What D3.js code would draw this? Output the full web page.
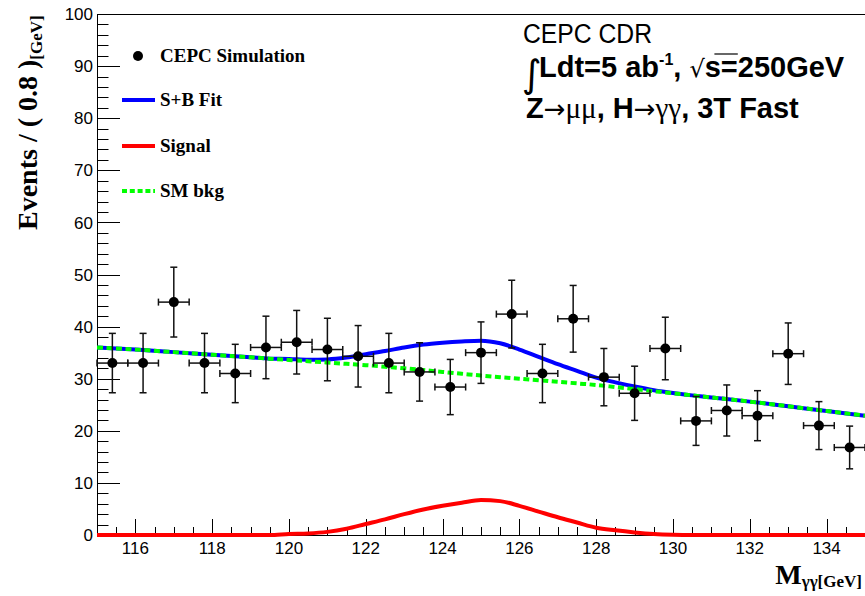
<!DOCTYPE html>
<html>
<head>
<meta charset="utf-8">
<script src="https://cdn.jsdelivr.net/npm/d3@7"></script>
<style>
  html, body { margin: 0; padding: 0; background: #fff; }
  svg { display: block; }
</style>
</head>
<body>
<svg id="chart" width="865" height="596"></svg>
<script>
// ---------------- DATA ----------------
const binCenters = [115.4,116.2,117.0,117.8,118.6,119.4,120.2,121.0,121.8,122.6,123.4,124.2,125.0,125.8,126.6,127.4,128.2,129.0,129.8,130.6,131.4,132.2,133.0,133.8,134.6];
const counts     = [33,33,44.7,33,31,36,37,35.6,34.3,33,31.3,28.4,35,42.4,31,41.5,30.3,27.2,35.8,21.9,23.9,22.9,34.8,21,16.8];
const errors     = [5.7,5.7,6.7,5.7,5.6,6.0,6.1,6.0,5.9,5.7,5.6,5.3,5.9,6.5,5.6,6.4,5.5,5.2,6.0,4.7,4.9,4.8,5.9,4.6,4.1];
const binHalfWidth = 0.4;

const curveX   = [115,116,117,118,119,119.5,120,120.5,121,121.5,122,122.5,123,123.5,124,124.5,125,125.5,126,126.5,127,127.5,128,128.5,129,129.5,130,130.5,131,132,133,134,135];
const bkgY     = [36.0,35.6,35.1,34.6,34.1,33.85,33.6,33.35,33.1,32.85,32.6,32.3,32.0,31.65,31.3,30.95,30.6,30.3,30.0,29.7,29.4,29.1,28.8,28.4,28.0,27.6,27.2,26.8,26.4,25.6,24.7,23.8,22.9];
const signalY  = [0,0,0,0,0,0,0.2,0.3,0.6,1.2,2.1,3.0,4.0,4.9,5.6,6.2,6.7,6.5,5.6,4.5,3.4,2.4,1.4,0.9,0.5,0.2,0.05,0,0,0,0,0,0];
const sbY      = [36.0,35.6,35.1,34.6,34.1,33.85,33.8,33.65,33.7,34.05,34.7,35.3,36.0,36.55,36.9,37.15,37.3,36.8,35.6,34.2,32.8,31.5,30.2,29.3,28.5,27.8,27.25,26.8,26.4,25.6,24.7,23.8,22.9];

const xDomain = [115, 135];
const yDomain = [0, 100];
const xTickValues = [116,118,120,122,124,126,128,130,132,134];
const yTickValues = [0,10,20,30,40,50,60,70,80,90,100];

const legendItems = [
  {label: "CEPC Simulation", type: "marker"},
  {label: "S+B Fit", type: "sb"},
  {label: "Signal", type: "sig"},
  {label: "SM bkg", type: "bkg"}
];

// ---------------- LAYOUT ----------------
const svg = d3.select("#chart");
const L = 97, R = 865, T = 14, B = 535;
const x = d3.scaleLinear().domain(xDomain).range([L, R]);
const y = d3.scaleLinear().domain(yDomain).range([B, T]);

const COL_SB = "#0000ff", COL_SIG = "#ff0000", COL_BKG = "#00ff00";
const SANS = "'Liberation Sans', Arial, Helvetica, sans-serif";
const SERIF = "'Liberation Serif', 'Times New Roman', Times, serif";

// frame
svg.append("rect").attr("x", L + 0.5).attr("y", T + 0.5).attr("width", R - L).attr("height", B - T)
  .attr("fill", "none").attr("stroke", "#000").attr("stroke-width", 1);

// ---------------- AXES (ROOT style: ticks inside) ----------------
const yMinor = d3.range(0, 100.001, 2);
const xMinor = d3.range(115, 135.001, 0.5);

const gY = svg.append("g").attr("class", "y-axis");
gY.selectAll("line.minor").data(yMinor).join("line")
  .attr("x1", L).attr("x2", d => L + (d % 10 === 0 ? 23 : 11.5))
  .attr("y1", d => Math.round(y(d)) + 0.5).attr("y2", d => Math.round(y(d)) + 0.5)
  .attr("stroke", "#000").attr("stroke-width", 1);
gY.selectAll("text").data(yTickValues).join("text")
  .attr("x", L - 4).attr("y", d => y(d)).attr("dy", "0.36em")
  .attr("text-anchor", "end").attr("font-family", SANS).attr("font-size", 17)
  .attr("fill", "#000").text(d => d);

const gX = svg.append("g").attr("class", "x-axis");
gX.selectAll("line").data(xMinor).join("line")
  .attr("x1", d => Math.round(x(d)) + 0.5).attr("x2", d => Math.round(x(d)) + 0.5)
  .attr("y1", B).attr("y2", d => B - (Math.abs(d % 2) < 1e-6 ? 16 : 8))
  .attr("stroke", "#000").attr("stroke-width", 1);
gX.selectAll("text").data(xTickValues).join("text")
  .attr("x", d => x(d)).attr("y", 554)
  .attr("text-anchor", "middle").attr("font-family", SANS).attr("font-size", 17)
  .attr("fill", "#000").text(d => d);

// axis titles
const yTitle = svg.append("text")
  .attr("transform", "translate(37,230) rotate(-90)")
  .attr("font-family", SERIF).attr("font-weight", "bold").attr("font-size", 28).attr("fill", "#000");
yTitle.append("tspan").text("Events / ( 0.8 )");
yTitle.append("tspan").attr("font-size", 17).attr("dy", 5).text("[GeV]");

const xTitle = svg.append("text")
  .attr("x", 862).attr("y", 584).attr("text-anchor", "end")
  .attr("font-family", SERIF).attr("font-weight", "bold").attr("font-size", 28).attr("fill", "#000");
xTitle.append("tspan").text("M");
xTitle.append("tspan").attr("font-size", 17).attr("dy", 3).text("γγ[GeV]");

// ---------------- CURVES ----------------
svg.append("clipPath").attr("id", "plotclip").append("rect")
  .attr("x", L).attr("y", T).attr("width", R - L).attr("height", B - T + 3);

const lineGen = (ys) => d3.line().x((d, i) => x(curveX[i])).y((d, i) => y(ys[i])).curve(d3.curveMonotoneX)(ys);

const gCurves = svg.append("g").attr("clip-path", "url(#plotclip)");
gCurves.append("path").attr("d", lineGen(signalY)).attr("fill", "none")
  .attr("stroke", COL_SIG).attr("stroke-width", 4);
gCurves.append("path").attr("d", lineGen(sbY)).attr("fill", "none")
  .attr("stroke", COL_SB).attr("stroke-width", 4);
gCurves.append("path").attr("d", lineGen(bkgY)).attr("fill", "none")
  .attr("stroke", COL_BKG).attr("stroke-width", 4).attr("stroke-dasharray", "6,3.5");

// ---------------- DATA POINTS ----------------
const gPts = svg.append("g");
const cap = 3.5;
binCenters.forEach((c, i) => {
  const cx = x(c), cy = y(counts[i]);
  const yl = y(counts[i] - errors[i]), yh = y(counts[i] + errors[i]);
  const xl = x(c - binHalfWidth), xh = x(c + binHalfWidth);
  const g = gPts.append("g").attr("stroke", "#111").attr("stroke-width", 1.5);
  g.append("line").attr("x1", cx).attr("x2", cx).attr("y1", yh).attr("y2", yl);
  g.append("line").attr("x1", xl).attr("x2", xh).attr("y1", cy).attr("y2", cy);
  g.append("line").attr("x1", cx - cap).attr("x2", cx + cap).attr("y1", yh).attr("y2", yh);
  g.append("line").attr("x1", cx - cap).attr("x2", cx + cap).attr("y1", yl).attr("y2", yl);
  g.append("line").attr("x1", xl).attr("x2", xl).attr("y1", cy - cap).attr("y2", cy + cap);
  g.append("line").attr("x1", xh).attr("x2", xh).attr("y1", cy - cap).attr("y2", cy + cap);
  gPts.append("circle").attr("cx", cx).attr("cy", cy).attr("r", 5).attr("fill", "#000");
});

// ---------------- LEGEND ----------------
const legY = [56, 100, 146, 191];
const gLeg = svg.append("g");
legendItems.forEach((it, i) => {
  const yy = legY[i];
  if (it.type === "marker") {
    gLeg.append("circle").attr("cx", 138).attr("cy", yy).attr("r", 5).attr("fill", "#000");
  } else {
    const col = it.type === "sb" ? COL_SB : it.type === "sig" ? COL_SIG : COL_BKG;
    const ln = gLeg.append("line").attr("x1", 122).attr("x2", 155).attr("y1", yy).attr("y2", yy)
      .attr("stroke", col).attr("stroke-width", 4);
    if (it.type === "bkg") ln.attr("stroke-dasharray", "5,2.8");
  }
  gLeg.append("text").attr("x", 160).attr("y", yy).attr("dy", "0.33em")
    .attr("font-family", SERIF).attr("font-weight", "bold").attr("font-size", 19)
    .attr("fill", "#000").text(it.label);
});

// ---------------- ANNOTATION ----------------
const gAnn = svg.append("g").attr("fill", "#000");
gAnn.append("text").attr("x", 523).attr("y", 43).attr("font-family", SANS).attr("font-size", 27)
  .attr("textLength", 129).attr("lengthAdjust", "spacingAndGlyphs")
  .text("CEPC CDR");

// integral sign
gAnn.append("text").attr("x", 522).attr("y", 87).attr("font-family", "'DejaVu Sans', sans-serif")
  .attr("font-size", 38).attr("font-weight", "normal").text("∫");

const l2 = gAnn.append("text").attr("x", 539).attr("y", 77).attr("font-family", SANS)
  .attr("font-weight", "bold").attr("font-size", 29);
l2.append("tspan").text("Ldt=5 ab");
l2.append("tspan").attr("font-size", 16).attr("dy", -12).text("-1");
l2.append("tspan").attr("dy", 12).text(",  ");
l2.append("tspan").attr("font-weight", "normal").attr("font-family", "'DejaVu Sans', sans-serif").attr("font-size", 24).text("√");
l2.append("tspan").text("s=250GeV");
// overline above s
const node = l2.node();
const txt = node.textContent;
const iRad = txt.indexOf("√");
const eRad = node.getExtentOfChar(iRad);
const eS = node.getExtentOfChar(iRad + 1);
gAnn.append("line").attr("x1", eRad.x + eRad.width * 0.6).attr("x2", eS.x + eS.width)
  .attr("y1", eRad.y + 3).attr("y2", eRad.y + 3).attr("stroke", "#000").attr("stroke-width", 1.2);

const l3 = gAnn.append("text").attr("x", 526).attr("y", 118).attr("font-family", SANS)
  .attr("font-weight", "bold").attr("font-size", 29);
const SYM = "'DejaVu Sans', sans-serif";
l3.append("tspan").text("Z");
l3.append("tspan").attr("font-family", SYM).attr("font-weight", "normal").attr("font-size", 26).text("→");
l3.append("tspan").attr("font-family", SERIF).attr("font-weight", "normal").text("μμ");
l3.append("tspan").text(", H");
l3.append("tspan").attr("font-family", SYM).attr("font-weight", "normal").attr("font-size", 26).text("→");
l3.append("tspan").attr("font-family", SERIF).attr("font-weight", "normal").text("γγ");
l3.append("tspan").text(", 3T Fast");
</script>
</body>
</html>
